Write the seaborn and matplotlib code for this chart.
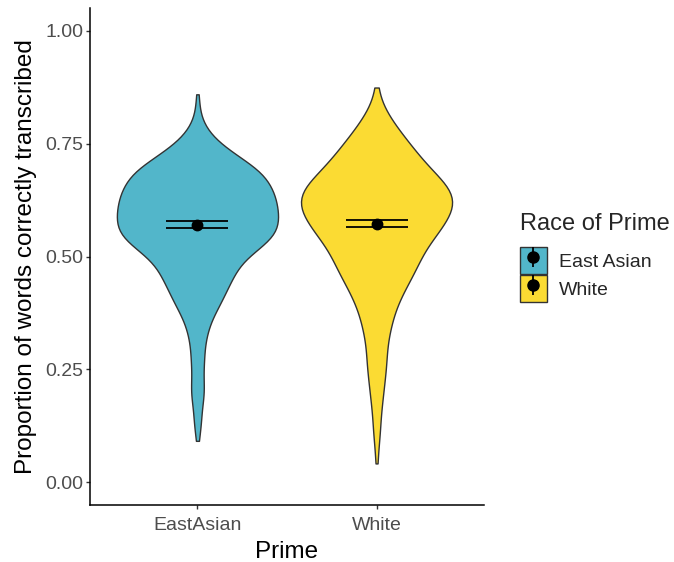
import numpy as np
import pandas as pd
import matplotlib
matplotlib.use("Agg")
import matplotlib.pyplot as plt
from matplotlib.patches import Patch
from matplotlib.lines import Line2D
from matplotlib.legend_handler import HandlerTuple
import seaborn as sns

# Prime conditions and legend labels
primes = ["EastAsian", "White"]
race_labels = ["East Asian", "White"]

# Proportion-correct scores and number of participants at each score
east_asian_scores = [0.092, 0.115, 0.140, 0.165, 0.190, 0.215, 0.240, 0.265, 0.290, 0.315,
                     0.340, 0.365, 0.390, 0.415, 0.440, 0.465, 0.490, 0.515, 0.540, 0.565,
                     0.590, 0.615, 0.640, 0.665, 0.690, 0.715, 0.740, 0.765, 0.790, 0.815,
                     0.840, 0.859]
east_asian_counts = [1, 2, 3, 3, 5, 5, 4, 5, 5, 6,
                     8, 11, 16, 20, 24, 28, 33, 44, 56, 60,
                     60, 59, 57, 53, 47, 34, 21, 11, 5, 2,
                     1, 1]

white_scores = [0.042, 0.065, 0.090, 0.115, 0.140, 0.165, 0.190, 0.215, 0.240, 0.265,
                0.290, 0.315, 0.340, 0.365, 0.390, 0.415, 0.440, 0.465, 0.490, 0.515,
                0.540, 0.565, 0.590, 0.615, 0.640, 0.665, 0.690, 0.715, 0.740, 0.765,
                0.790, 0.815, 0.840, 0.865, 0.874]
white_counts = [1, 1, 2, 3, 3, 4, 5, 6, 7, 8,
                8, 9, 11, 13, 16, 20, 25, 30, 34, 38,
                45, 52, 58, 62, 61, 54, 44, 36, 29, 22,
                15, 9, 4, 1, 1]

# Condition means with 95% confidence half-widths
means = [0.570, 0.573]
ci_half = [0.0075, 0.0075]

palette = ["#52B6CA", "#FBDB33"]
y_ticks = [0.00, 0.25, 0.50, 0.75, 1.00]
y_tick_labels = ["0.00", "0.25", "0.50", "0.75", "1.00"]

rows = []
for prime, race, scores, counts in [
    (primes[0], race_labels[0], east_asian_scores, east_asian_counts),
    (primes[1], race_labels[1], white_scores, white_counts),
]:
    for s, c in zip(scores, counts):
        rows.extend([(prime, race, s)] * c)
df = pd.DataFrame(rows, columns=["Prime", "Race", "score"])

sns.set_theme(style="white")
plt.rcParams["font.family"] = ["Liberation Sans", "DejaVu Sans"]

fig = plt.figure(figsize=(6.74, 5.62), dpi=100)
ax = fig.add_axes([90 / 674, 1 - 505 / 562, (484 - 90) / 674, (505 - 8) / 562])

sns.violinplot(
    data=df, x="Prime", y="score", hue="Race", order=primes, hue_order=race_labels,
    palette=palette, saturation=1, cut=0, inner=None, density_norm="area",
    common_norm=True, width=0.9, linewidth=1.0, linecolor="#333333",
    bw_method=0.18, legend=False, ax=ax,
)

ax.errorbar(
    x=[0, 1], y=means, yerr=ci_half, fmt="o", color="black", markersize=7.5,
    capsize=22, capthick=1.3, elinewidth=1.3, zorder=5,
)

ax.set_xlim(-0.6, 1.6)
ax.set_ylim(-0.05, 1.05)
ax.set_yticks(y_ticks)
ax.set_yticklabels(y_tick_labels)
ax.set_xlabel("Prime", fontsize=17.5, color="black", labelpad=5)
ax.set_ylabel("Proportion of words correctly transcribed", fontsize=17.5,
              color="black", labelpad=6)
ax.tick_params(axis="both", labelsize=14, labelcolor="#4D4D4D", color="#333333",
               length=3, width=1.0, left=True, bottom=True)
ax.tick_params(axis="x", pad=5.5)
ax.tick_params(axis="y", pad=2)
for side in ["top", "right"]:
    ax.spines[side].set_visible(False)
for side in ["left", "bottom"]:
    ax.spines[side].set_color("black")
    ax.spines[side].set_linewidth(1.1)
ax.grid(False)

handles = []
for col in palette:
    box = Patch(facecolor=col, edgecolor="#333333", linewidth=1.0)
    stem = Line2D([], [], marker="|", markersize=15, markeredgewidth=1.3,
                  color="black", linestyle="none")
    dot = Line2D([], [], marker="o", markersize=8, color="black", linestyle="none")
    handles.append((box, stem, dot))

leg = fig.legend(
    handles, race_labels, title="Race of Prime", loc="upper left",
    bbox_to_anchor=(512 / 674, 1 - 205 / 562), frameon=False, fontsize=14,
    title_fontsize=17, handler_map={tuple: HandlerTuple(ndivide=1, pad=0)},
    handlelength=1.39, handleheight=1.755, labelspacing=0.05, handletextpad=0.62,
    alignment="left", borderaxespad=0,
)
leg._legend_box.sep = 9

fig.savefig("out.png", dpi=100)
